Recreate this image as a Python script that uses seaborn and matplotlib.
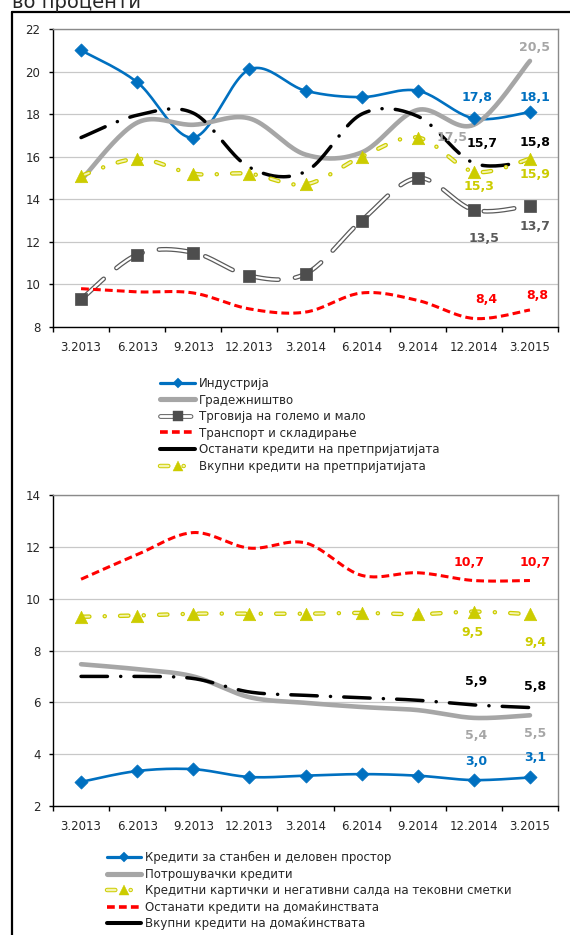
import numpy as np
import matplotlib
matplotlib.use("Agg")
import matplotlib.pyplot as plt
import matplotlib.patheffects as pe
from matplotlib.lines import Line2D
import seaborn as sns

quarters = ["3.2013", "6.2013", "9.2013", "12.2013", "3.2014",
            "6.2014", "9.2014", "12.2014", "3.2015"]

# corporate loans, %
industry = [21.0, 19.5, 16.9, 20.1, 19.1, 18.8, 19.1, 17.8, 18.1]
construction = [14.9, 17.6, 17.5, 17.8, 16.1, 16.2, 18.2, 17.5, 20.5]
trade = [9.3, 11.4, 11.5, 10.4, 10.5, 13.0, 15.0, 13.5, 13.7]
transport = [9.8, 9.65, 9.6, 8.85, 8.7, 9.6, 9.25, 8.4, 8.8]
other_corp = [16.9, 17.95, 18.05, 15.5, 15.3, 18.0, 17.9, 15.7, 15.8]
total_corp = [15.1, 15.9, 15.2, 15.2, 14.7, 16.0, 16.9, 15.3, 15.9]

corp_names = ["Индустрија", "Градежништво", "Трговија на големо и мало",
              "Транспорт и складирање", "Останати кредити на претпријатијата",
              "Вкупни кредити на претпријатијата"]

# household loans, %
housing = [2.93, 3.35, 3.42, 3.12, 3.17, 3.23, 3.17, 3.0, 3.1]
consumer = [7.47, 7.28, 7.0, 6.2, 5.98, 5.82, 5.7, 5.4, 5.5]
cards = [9.3, 9.35, 9.42, 9.42, 9.42, 9.45, 9.4, 9.5, 9.4]
other_hh = [10.75, 11.7, 12.55, 11.95, 12.15, 10.9, 11.0, 10.7, 10.7]
total_hh = [7.0, 7.0, 6.92, 6.4, 6.27, 6.18, 6.08, 5.9, 5.8]

hh_names = ["Кредити за станбен и деловен простор", "Потрошувачки кредити",
            "Кредитни картички и негативни салда на тековни сметки",
            "Останати кредити на домаќинствата", "Вкупни кредити на домаќинствата"]

BLUE = "#0070c0"
GRAY = "#a6a6a6"
DGRAY = "#4d4d4d"
RED = "#ff0000"
BLACK = "#000000"
YEL = "#cccc00"

sns.set_style("white")
plt.rcParams["font.family"] = ["DejaVu Sans"]
plt.rcParams["lines.scale_dashes"] = False


def smooth(y, n=24):
    # Excel-like smoothed line (Catmull-Rom as cubic Bezier)
    y = np.asarray(y, float)
    pts = np.column_stack([np.arange(len(y), dtype=float), y])
    ext = np.vstack([pts[0], pts, pts[-1]])
    t = np.linspace(0, 1, n)[1:, None]
    out = [pts[0]]
    for i in range(len(pts) - 1):
        p0, p1, p2, p3 = ext[i], ext[i + 1], ext[i + 2], ext[i + 3]
        c1 = p1 + (p2 - p0) / 6
        c2 = p2 - (p3 - p1) / 6
        seg = (1 - t) ** 3 * p1 + 3 * (1 - t) ** 2 * t * c1 + 3 * (1 - t) * t ** 2 * c2 + t ** 3 * p2
        out.extend(seg)
    out = np.array(out)
    return out[:, 0], out[:, 1]


STYLES = {
    "blue": dict(color=BLUE, lw=1.9),
    "gray": dict(color=GRAY, lw=3.3),
    "trade": dict(color="white", lw=1.6, dashes=(22, 12), cap="round",
                  fx=[pe.Stroke(linewidth=3.4, foreground="#5a5a5a"), pe.Normal()]),
    "red": dict(color=RED, lw=2.2, dashes=(5.6, 3.0), cap="butt"),
    "black": dict(color=BLACK, lw=2.5, dashes=(19, 9.5, 0.1, 9.5), cap="round"),
    "yellow": dict(color="#f4f4b0", lw=1.4, dashes=(6, 11, 0.1, 11), cap="round",
                   fx=[pe.Stroke(linewidth=3.2, foreground=YEL), pe.Normal()]),
}


def draw_series(ax, vals, style, marker=None, mcolor=None, ms=0):
    sx, sy = smooth(vals)
    st = STYLES[style]
    sns.lineplot(x=sx, y=sy, ax=ax, sort=False, estimator=None,
                 color=st["color"], linewidth=st["lw"], legend=False)
    line = ax.lines[-1]
    if "dashes" in st:
        line.set_dashes(st["dashes"])
        line.set_dash_capstyle(st["cap"])
    line.set_solid_capstyle("round")
    if "fx" in st:
        line.set_path_effects(st["fx"])
    if marker:
        sns.scatterplot(x=np.arange(len(vals)), y=vals, ax=ax, marker=marker,
                        s=ms, color=mcolor, edgecolor=mcolor, linewidth=0.5,
                        zorder=5, legend=False)


def label(ax, i, v, color, dx, dy):
    # dx, dy in pixels, dy measured downward on screen
    ax.annotate(f"{v:.1f}".replace(".", ","), (i, v), xytext=(dx * 0.72, -dy * 0.72),
                textcoords="offset points", ha="center", va="center",
                color=color, fontsize=9, fontweight="bold", zorder=6)


def style_axes(ax, ymin, ymax):
    ax.set_xlim(-0.5, 8.5)
    ax.set_ylim(ymin, ymax)
    ax.set_yticks(np.arange(ymin, ymax + 1, 2))
    ax.set_xticks(np.arange(-0.5, 9.0, 1.0))
    ax.set_xticklabels([])
    ax.set_xticks(np.arange(9), minor=True)
    ax.set_xticklabels(quarters, minor=True)
    ax.tick_params(axis="x", which="major", direction="out", length=3.6, width=1,
                   color="black", bottom=True)
    ax.tick_params(axis="x", which="minor", length=0, pad=10, labelsize=8.5)
    ax.tick_params(axis="y", direction="out", length=3, width=1, color="black",
                   left=True, pad=6, labelsize=8.5)
    ax.grid(axis="y", color="#c8c8c8", linewidth=0.9)
    ax.set_axisbelow(True)
    for side in ["top", "right"]:
        ax.spines[side].set_color("#8a8a8a")
        ax.spines[side].set_linewidth(1.0)
    for side in ["left", "bottom"]:
        ax.spines[side].set_color("black")
        ax.spines[side].set_linewidth(1.0)
    ax.set_xlabel("")
    ax.set_ylabel("")


fig = plt.figure(figsize=(5.7, 9.35), dpi=100)

fig.text(12 / 570, 1 - 8 / 935, "во проценти", fontsize=14, va="baseline", ha="left")
fig.add_artist(Line2D([12 / 570, 1.0], [1 - 12 / 935, 1 - 12 / 935],
                      transform=fig.transFigure, color="black", lw=1.6))
fig.add_artist(Line2D([12 / 570, 12 / 570], [1 - 12 / 935, 0.0],
                      transform=fig.transFigure, color="black", lw=1.6))

# ---- corporate panel
ax1 = fig.add_axes([53 / 570, 1 - 327 / 935, 505 / 570, 298 / 935])
draw_series(ax1, industry, "blue", "D", BLUE, 45)
draw_series(ax1, construction, "gray")
draw_series(ax1, trade, "trade", "s", DGRAY, 75)
draw_series(ax1, transport, "red")
draw_series(ax1, other_corp, "black")
draw_series(ax1, total_corp, "yellow", "^", YEL, 80)
style_axes(ax1, 8, 22)

label(ax1, 7, industry[7], BLUE, 3, -21)
label(ax1, 8, industry[8], BLUE, 5, -15)
label(ax1, 8, construction[8], GRAY, 5, -13)
label(ax1, 7, construction[7], GRAY, -22, 13)
label(ax1, 7, other_corp[7], BLACK, 8, -20)
label(ax1, 8, other_corp[8], BLACK, 5, -18)
label(ax1, 7, total_corp[7], YEL, 5, 15)
label(ax1, 8, total_corp[8], YEL, 5, 16)
label(ax1, 7, trade[7], "#595959", 10, 29)
label(ax1, 8, trade[8], "#595959", 5, 21)
label(ax1, 7, transport[7], RED, 12, -19)
label(ax1, 8, transport[8], RED, 7, -14)

# ---- household panel
ax2 = fig.add_axes([53 / 570, 1 - 806 / 935, 505 / 570, 311 / 935])
draw_series(ax2, housing, "blue", "D", BLUE, 45)
draw_series(ax2, consumer, "gray")
draw_series(ax2, cards, "yellow", "^", YEL, 80)
draw_series(ax2, other_hh, "red")
draw_series(ax2, total_hh, "black")
style_axes(ax2, 2, 14)

label(ax2, 7, other_hh[7], RED, -5, -18)
label(ax2, 8, other_hh[8], RED, 5, -18)
label(ax2, 7, cards[7], YEL, -1, 21)
label(ax2, 8, cards[8], YEL, 5, 28)
label(ax2, 7, total_hh[7], BLACK, 2, -23)
label(ax2, 8, total_hh[8], BLACK, 5, -21)
label(ax2, 7, consumer[7], GRAY, 2, 18)
label(ax2, 8, consumer[8], GRAY, 5, 18)
label(ax2, 7, housing[7], BLUE, 2, -19)
label(ax2, 8, housing[8], BLUE, 5, -20)


# ---- legends
def h(style, marker=None, mcolor=None, ms=0):
    st = STYLES[style]
    ln = Line2D([], [], color=st["color"], lw=st["lw"] + 0.4)
    if "dashes" in st and style != "black":
        ln.set_dashes(st["dashes"])
        ln.set_dash_capstyle(st["cap"])
    if "fx" in st:
        ln.set_path_effects(st["fx"])
    if not marker:
        return ln
    mk = Line2D([], [], linestyle="none", marker=marker, markersize=ms,
                markerfacecolor=mcolor, markeredgecolor=mcolor, markeredgewidth=0.3)
    return (ln, mk)


corp_handles = [h("blue", "D", BLUE, 5), h("gray"), h("trade", "s", DGRAY, 7),
                h("red"), h("black"), h("yellow", "^", YEL, 6.5)]
hh_handles = [h("blue", "D", BLUE, 5), h("gray"), h("yellow", "^", YEL, 6.5),
              h("red"), h("black")]

leg_kw = dict(loc="upper left", frameon=False, fontsize=8.5, borderpad=0,
              borderaxespad=0, handletextpad=0.3, labelspacing=0.3)
fig.legend(corp_handles, corp_names, bbox_to_anchor=(160 / 570, 1 - 377 / 935),
           handlelength=3.0, **leg_kw)
fig.legend(hh_handles, hh_names, bbox_to_anchor=(107 / 570, 1 - 851 / 935),
           handlelength=2.9, **leg_kw)

fig.savefig("out.png", dpi=100)
